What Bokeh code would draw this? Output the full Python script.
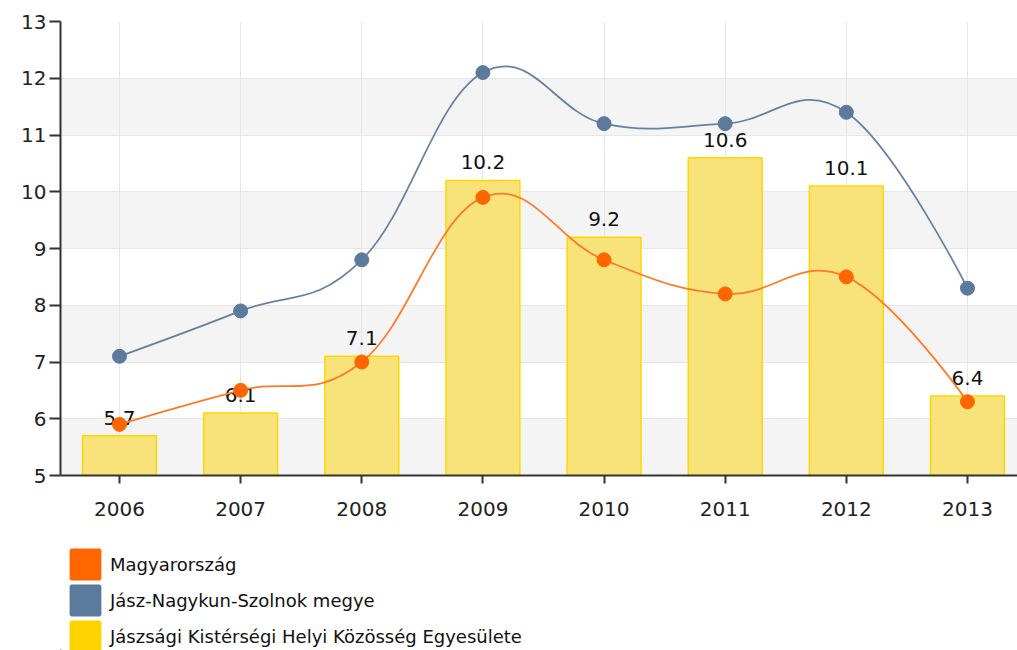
from bokeh.plotting import figure
from bokeh.layouts import column
from bokeh.models import (Range1d, FixedTicker, Legend, LegendItem, ColumnDataSource,
                          BoxAnnotation)
from bokeh.core.properties import value
from bokeh.embed import file_html
from bokeh.resources import INLINE

years = ["2006", "2007", "2008", "2009", "2010", "2011", "2012", "2013"]
egyesulet = [5.7, 6.1, 7.1, 10.2, 9.2, 10.6, 10.1, 6.4]
magyarorszag = [5.9, 6.5, 7.0, 9.9, 8.8, 8.2, 8.5, 6.3]
megye = [7.1, 7.9, 8.8, 12.1, 11.2, 11.2, 11.4, 8.3]
y_ticks = [5, 6, 7, 8, 9, 10, 11, 12, 13]

names = ["Magyarország", "Jász-Nagykun-Szolnok megye",
         "Jászsági Kistérségi Helyi Közösség Egyesülete"]

ORANGE = "#FF6600"
BLUE = "#5C7A9C"
YELLOW = "#FFD200"
FONT = "DejaVu Sans"

idx = list(range(len(years)))


def spline_segments(xs, ys, smoothing=1.5):
    n = len(xs)
    denom = smoothing + 1
    left = [None] * n
    right = [None] * n
    for i in range(n):
        if 0 < i < n - 1:
            px, py = xs[i], ys[i]
            lx, ly = xs[i - 1], ys[i - 1]
            nx, ny = xs[i + 1], ys[i + 1]
            lcx = (smoothing * px + lx) / denom
            lcy = (smoothing * py + ly) / denom
            rcx = (smoothing * px + nx) / denom
            rcy = (smoothing * py + ny) / denom
            corr = ((rcy - lcy) * (rcx - px)) / (rcx - lcx) + py - rcy
            left[i] = (lcx, lcy + corr)
            right[i] = (rcx, rcy + corr)
        else:
            left[i] = right[i] = (xs[i], ys[i])
    seg = dict(x0=[], y0=[], x1=[], y1=[], cx0=[], cy0=[], cx1=[], cy1=[])
    for i in range(1, n):
        seg["x0"].append(xs[i - 1]); seg["y0"].append(ys[i - 1])
        seg["x1"].append(xs[i]); seg["y1"].append(ys[i])
        seg["cx0"].append(right[i - 1][0]); seg["cy0"].append(right[i - 1][1])
        seg["cx1"].append(left[i][0]); seg["cy1"].append(left[i][1])
    return seg


p = figure(width=1017, height=530, output_backend="svg", toolbar_location=None,
           x_range=Range1d(-0.487, 7.413), y_range=Range1d(y_ticks[0], y_ticks[-1]),
           min_border_left=60, min_border_right=0, min_border_top=21,
           min_border_bottom=55)
p.outline_line_color = None
p.background_fill_color = "white"

# alternating shaded bands (every other band, starting at the bottom one)
for i in range(0, len(y_ticks) - 1, 2):
    p.add_layout(BoxAnnotation(bottom=y_ticks[i], top=y_ticks[i + 1],
                               fill_color="#f4f4f4", fill_alpha=1.0,
                               line_color=None, level="image"))

# grids
p.ygrid.ticker = FixedTicker(ticks=y_ticks)
p.ygrid.grid_line_color = "#e6e6e6"
p.xgrid.ticker = FixedTicker(ticks=idx)
p.xgrid.grid_line_color = "#e6e6e6"

# axes
p.xaxis.ticker = FixedTicker(ticks=idx)
p.xaxis.major_label_overrides = {i: y for i, y in enumerate(years)}
p.yaxis.ticker = FixedTicker(ticks=y_ticks)
for ax in (p.xaxis, p.yaxis):
    ax.axis_line_color = "#333333"
    ax.axis_line_width = 2
    ax.major_tick_line_color = "#333333"
    ax.major_tick_line_width = 2
    ax.major_tick_in = 0
    ax.minor_tick_line_color = None
    ax.major_label_text_font = FONT
    ax.major_label_text_font_size = "20px"
    ax.major_label_text_color = "#222222"
p.xaxis.major_tick_out = 8
p.xaxis.major_label_standoff = 18
p.yaxis.major_tick_out = 11
p.yaxis.major_label_standoff = 3

# bars
p.vbar(x=idx, top=egyesulet, bottom=y_ticks[0], width=0.61,
       fill_color="#F8E27A", line_color="#FFD700", line_width=1.5)

# bar labels
p.text(x=idx, y=egyesulet, text=[str(v) for v in egyesulet],
       text_align="center", text_baseline="bottom", y_offset=-11,
       text_font=value(FONT), text_font_size="20px", text_color="#111111")

# spline lines
seg_b = spline_segments(idx, megye)
p.bezier(source=ColumnDataSource(seg_b), x0="x0", y0="y0", x1="x1", y1="y1",
         cx0="cx0", cy0="cy0", cx1="cx1", cy1="cy1", line_color="#6381A3", line_width=1.75)
seg_o = spline_segments(idx, magyarorszag)
p.bezier(source=ColumnDataSource(seg_o), x0="x0", y0="y0", x1="x1", y1="y1",
         cx0="cx0", cy0="cy0", cx1="cx1", cy1="cy1", line_color="#FF7A26", line_width=1.75)

p.scatter(x=idx, y=megye, size=14, fill_color=BLUE, line_color=BLUE)
p.scatter(x=idx, y=magyarorszag, size=14, fill_color=ORANGE, line_color=ORANGE)

# legend in its own strip below the chart
lf = figure(width=1017, height=120, output_backend="svg", toolbar_location=None,
            x_range=Range1d(0, 1), y_range=Range1d(0, 1),
            x_axis_type=None, y_axis_type=None,
            min_border_left=0, min_border_right=0, min_border_top=0, min_border_bottom=0)
lf.outline_line_color = None
lf.xgrid.visible = False
lf.ygrid.visible = False
swatch_colors = [ORANGE, BLUE, YELLOW]
rends = []
for c in swatch_colors:
    # zero-size swatch placed outside the strip's visible range; only used by the legend
    rends.append(lf.vbar(x=[-5], top=[-5], bottom=[-5], width=0,
                         fill_color=c, line_color=c, line_width=3))
legend = Legend(items=[LegendItem(label=n, renderers=[r]) for n, r in zip(names, rends)],
                location=(7, -4), orientation="vertical",
                glyph_width=36, glyph_height=36, spacing=0,
                label_standoff=7, label_text_font=FONT,
                label_text_font_size="18px", label_text_color="#111111",
                border_line_alpha=0, background_fill_alpha=0,
                padding=0, margin=0)
lf.add_layout(legend, "center")

layout = column(p, lf, spacing=0)
open("out.html", "w").write(file_html(layout, INLINE))
